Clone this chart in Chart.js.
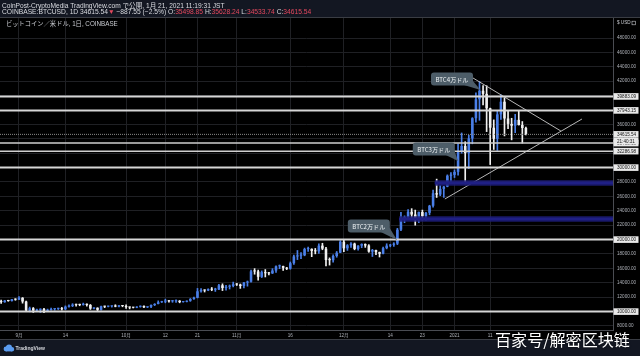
<!DOCTYPE html>
<html><head><meta charset="utf-8">
<script src="https://cdn.jsdelivr.net/npm/chart.js@4.4.1/dist/chart.umd.min.js"></script>
<style>html,body{margin:0;padding:0;background:#000;}canvas{display:block;}</style>
</head><body>
<canvas id="c" width="640" height="356"></canvas>
<script>
// ---- data (daily BTCUSD, Coinbase) ----
const dates = [
'2020-08-27','2020-08-28','2020-08-29','2020-08-30','2020-08-31',
'2020-09-01','2020-09-02','2020-09-03','2020-09-04','2020-09-05','2020-09-06','2020-09-07','2020-09-08','2020-09-09','2020-09-10',
'2020-09-11','2020-09-12','2020-09-13','2020-09-14','2020-09-15','2020-09-16','2020-09-17','2020-09-18','2020-09-19','2020-09-20',
'2020-09-21','2020-09-22','2020-09-23','2020-09-24','2020-09-25','2020-09-26','2020-09-27','2020-09-28','2020-09-29','2020-09-30',
'2020-10-01','2020-10-02','2020-10-03','2020-10-04','2020-10-05','2020-10-06','2020-10-07','2020-10-08','2020-10-09','2020-10-10',
'2020-10-11','2020-10-12','2020-10-13','2020-10-14','2020-10-15','2020-10-16','2020-10-17','2020-10-18','2020-10-19','2020-10-20',
'2020-10-21','2020-10-22','2020-10-23','2020-10-24','2020-10-25','2020-10-26','2020-10-27','2020-10-28','2020-10-29','2020-10-30','2020-10-31',
'2020-11-01','2020-11-02','2020-11-03','2020-11-04','2020-11-05','2020-11-06','2020-11-07','2020-11-08','2020-11-09','2020-11-10',
'2020-11-11','2020-11-12','2020-11-13','2020-11-14','2020-11-15','2020-11-16','2020-11-17','2020-11-18','2020-11-19','2020-11-20',
'2020-11-21','2020-11-22','2020-11-23','2020-11-24','2020-11-25','2020-11-26','2020-11-27','2020-11-28','2020-11-29','2020-11-30',
'2020-12-01','2020-12-02','2020-12-03','2020-12-04','2020-12-05','2020-12-06','2020-12-07','2020-12-08','2020-12-09','2020-12-10',
'2020-12-11','2020-12-12','2020-12-13','2020-12-14','2020-12-15','2020-12-16','2020-12-17','2020-12-18','2020-12-19','2020-12-20',
'2020-12-21','2020-12-22','2020-12-23','2020-12-24','2020-12-25','2020-12-26','2020-12-27','2020-12-28','2020-12-29','2020-12-30','2020-12-31',
'2021-01-01','2021-01-02','2021-01-03','2021-01-04','2021-01-05','2021-01-06','2021-01-07','2021-01-08','2021-01-09','2021-01-10',
'2021-01-11','2021-01-12','2021-01-13','2021-01-14','2021-01-15','2021-01-16','2021-01-17','2021-01-18','2021-01-19','2021-01-20','2021-01-21'
];
const open = [
11460,11320,11530,11470,11710,
11660,11920,11400,10170,10470,10160,10250,10370,10120,10230,10340,10390,10440,10330,10680,10790,10960,10940,10930,11080,10920,10420,10530,10240,10740,10690,10730,10780,10700,10840,
10780,10620,10570,10550,10670,10790,10600,10670,10920,11060,11300,11380,11540,11430,11430,11510,11320,11370,11500,11750,11920,12820,12990,12930,13120,13040,13070,13650,13280,13460,13560,
13800,13760,13550,14030,14150,15590,15580,14830,15480,15330,15310,15700,16290,16330,16070,15960,16720,17660,17780,17820,18680,18710,18420,18370,19160,18740,17160,17140,17720,18180,
19700,18790,19210,19440,18700,19160,19380,19180,18330,18550,18250,18040,18810,19160,19280,19440,21380,22820,23140,23860,23480,22730,23830,23250,23720,24700,26440,26260,27040,27360,28880,
28990,29410,32200,33000,32020,34050,36860,39490,40670,40240,38240,35540,34010,37390,39150,36820,36070,35820,36630,35920,35498.85
];
const high = [
11590,11550,11580,11720,11790,
12080,11950,11470,10630,10570,10350,10400,10440,10350,10500,10400,10480,10580,10790,10940,11100,11050,11040,11180,11080,10990,10570,10540,10770,10760,10780,10800,10950,10860,10850,
10950,10660,10600,10690,10800,10800,10690,10950,11110,11490,11440,11730,11560,11560,11630,11540,11400,11500,11820,12030,13220,13190,13030,13170,13350,13250,13790,13860,13640,13700,14100,
13900,13830,14070,14250,15770,15970,15770,15650,15840,15460,15960,16340,16480,16330,16140,16890,17860,18490,18190,18820,18960,18730,18770,19420,19490,18920,17460,17880,18350,19860,
19920,19310,19580,19520,19180,19420,19410,19300,18650,18560,18270,18950,19420,19350,19570,21560,23800,23290,24170,24300,24100,23840,24100,23800,24770,26870,28400,27500,27390,28990,29300,
29680,33300,34810,33600,34500,36940,40380,41950,41380,41370,38260,36630,37850,40100,39700,37950,36850,37400,37860,36400,35628.24
];
const low = [
11130,11280,11430,11460,11570,
11660,11170,10000,9970,9880,10030,9880,9850,10000,10200,10200,10290,10210,10270,10630,10680,10760,10810,10890,10760,10300,10360,10140,10200,10550,10650,10620,10660,10640,10670,
10440,10380,10500,10530,10610,10530,10550,10530,10830,11060,11260,11220,11300,11290,11270,11220,11300,11340,11420,11680,11900,12700,12720,12900,12900,12800,13060,12920,12990,13140,13430,
13620,13220,13290,13530,14090,15190,14350,14720,14810,15090,15280,15450,15960,15720,15830,15880,16560,17220,17350,17750,18370,17630,18020,18090,18590,16330,16460,16880,17550,18180,
18330,18500,18930,18580,18520,18870,18920,18240,17650,17910,17580,18020,18710,19000,19060,19300,21230,22350,22770,23070,22000,22360,22720,22700,23440,24520,25850,26100,25860,27330,27850,
28620,28950,32000,27730,29870,33300,36300,36570,38720,35000,30420,32520,32380,36700,34400,35400,33850,34850,35900,33400,34533.74
];
const close = [
11320,11530,11470,11710,11660,
11920,11400,10170,10470,10160,10250,10370,10120,10230,10340,10390,10440,10330,10680,10790,10960,10940,10930,11080,10920,10420,10530,10240,10740,10690,10730,10780,10700,10840,10780,
10620,10570,10550,10670,10790,10600,10670,10920,11060,11300,11380,11540,11430,11430,11510,11320,11370,11500,11750,11920,12820,12990,12930,13120,13040,13070,13650,13280,13460,13560,13800,
13760,13550,14030,14150,15590,15580,14830,15480,15330,15310,15700,16290,16330,16070,15960,16720,17660,17780,17820,18680,18710,18420,18370,19160,18740,17160,17140,17720,18180,19700,
18790,19210,19440,18700,19160,19380,19180,18330,18550,18250,18040,18810,19160,19280,19440,21380,22820,23140,23860,23480,22730,23830,23250,23720,24700,26440,26260,27040,27360,28880,28990,
29410,32200,33000,32020,34050,36860,39490,40670,40240,38240,35540,34010,37390,39150,36820,36070,35820,36630,35920,35500,34615.54
];
// x-axis tick dates and labels
const xTickDates = ['2020-09-01','2020-09-14','2020-10-01','2020-10-12','2020-10-21','2020-11-01','2020-11-16','2020-12-01','2020-12-14','2020-12-23','2021-01-01','2021-01-11'];
const xTickLabels = ['9月','14','10月','12','21','11月','16','12月','14','23','2021','11'];
// y-axis ticks
const yTickValues = [8000,10000,12000,14000,16000,18000,20000,22000,24000,26000,28000,30000,32000,34000,36000,38000,40000,42000,44000,46000,48000];
// drawn horizontal levels
const levelValues = [39883.09, 37943.15, 30000, 20000, 10000];
const nearLevelValues = [33405.15, 32286.98];
const currentPrice = 34615.54;
const countdownText = '21:40:31';
// blue zones
const zoneValues = [27860, 22860];
const zoneStartDates = ['2020-12-27', '2020-12-17'];
// triangle trend lines (day offsets from 2020-09-01, price)
const upperTrendDays = [125.8, 151.8];
const upperTrendPrices = [42860, 35080];
const lowerTrendDays = [119.3, 157.7];
const lowerTrendPrices = [25640, 36750];
// callouts
const calloutTexts = ['BTC4万ドル', 'BTC3万ドル', 'BTC2万ドル'];
const calloutBoxDays = [121.3, 116.2, 98.0];
const calloutBoxPrices = [42300, 32580, 21890];
const calloutTipDays = [129.3, 123.0, 105.9];
const calloutTipPrices = [40780, 30900, 19950];

// ---- helpers ----
const BASE = Date.UTC(2020, 8, 1);
const toDay = s => { const [y, m, d] = s.split('-').map(Number); return Math.round((Date.UTC(y, m - 1, d) - BASE) / 86400000); };
const dayIndex = dates.map(toDay);
const xTickDays = xTickDates.map(toDay);
const xMin = -5.32, xMax = 166.4;
const yMin = 7444, yMax = 50778;
const UP = '#4a7fe8', DOWN = '#f0f0f0';
const candleColors = open.map((o, i) => close[i] >= o ? UP : DOWN);

const wickData = dayIndex.map((x, i) => ({x, y: [low[i], high[i]]}));
const bodyData = dayIndex.map((x, i) => ({x, y: [Math.min(open[i], close[i]), Math.max(open[i], close[i])]}));

const lineSets = [];
function seg(xs, ys, color, width, dash) {
  lineSets.push({type: 'line', data: xs.map((x, i) => ({x, y: ys[i]})), borderColor: color, borderWidth: width,
    borderDash: dash || [], pointRadius: 0, fill: false, order: 0, tension: 0});
}
zoneValues.forEach((v, i) => {
  const s = toDay(zoneStartDates[i]) - 0.5;
  seg([s, xMax], [v, v], 'rgba(28,28,120,0.85)', 5.5);
  seg([s, xMax], [v, v], 'rgba(48,48,210,1)', 2.6);
  seg([s, xMax], [v, v], 'rgba(105,105,250,0.8)', 0.8);
});
levelValues.forEach(v => seg([xMin, xMax], [v, v], '#d6d6d6', 2));
nearLevelValues.forEach(v => seg([xMin, xMax], [v, v], '#cfcfcf', 1.5));
seg([xMin, xMax], [currentPrice, currentPrice], '#8a8a8a', 1, [1, 1]);
seg(upperTrendDays, upperTrendPrices, '#b8b8b8', 1);
seg(lowerTrendDays, lowerTrendPrices, '#b8b8b8', 1);

function fitFont(ctx, text, w, family, weight) {
  ctx.font = (weight || '') + ' 20px ' + family;
  const m = ctx.measureText(text).width;
  return 20 * w / m;
}

const deco = {
  id: 'deco',
  beforeDraw(chart) {
    const c = chart.ctx;
    c.save();
    c.fillStyle = '#000'; c.fillRect(0, 0, 640, 356);
    c.fillStyle = '#131722'; c.fillRect(0, 0, 640, 17); c.fillRect(0, 340, 640, 16);
    c.strokeStyle = '#3a3d44'; c.lineWidth = 1;
    c.beginPath(); c.moveTo(0, 17.5); c.lineTo(640, 17.5); c.stroke();
    c.beginPath(); c.moveTo(0, 339.5); c.lineTo(640, 339.5); c.stroke();
    c.restore();
  },
  afterDatasetsDraw(chart) {
    const c = chart.ctx, xs = chart.scales.x, ys = chart.scales.y;
    c.save();
    calloutTexts.forEach((t, i) => {
      const cx = xs.getPixelForValue(calloutBoxDays[i]), cy = ys.getPixelForValue(calloutBoxPrices[i]);
      const tx = xs.getPixelForValue(calloutTipDays[i]), ty = ys.getPixelForValue(calloutTipPrices[i]);
      const w = 42, h = 13, r = 3, x0 = cx - w / 2, y0 = cy - h / 2;
      c.fillStyle = '#4d5d68';
      c.beginPath();
      c.moveTo(x0 + r, y0); c.lineTo(x0 + w - r, y0); c.quadraticCurveTo(x0 + w, y0, x0 + w, y0 + r);
      c.lineTo(x0 + w, y0 + h - r); c.quadraticCurveTo(x0 + w, y0 + h, x0 + w - r, y0 + h);
      c.lineTo(x0 + r, y0 + h); c.quadraticCurveTo(x0, y0 + h, x0, y0 + h - r);
      c.lineTo(x0, y0 + r); c.quadraticCurveTo(x0, y0, x0 + r, y0); c.closePath(); c.fill();
      c.beginPath(); c.moveTo(x0 + w - 9, y0 + h - 0.5); c.lineTo(tx, ty); c.lineTo(x0 + w - 0.5, y0 + h - 5); c.closePath(); c.fill();
      const fs = fitFont(c, t, 33, "'Noto Sans CJK JP'");
      c.font = fs + "px 'Noto Sans CJK JP'";
      c.fillStyle = '#eef2f4'; c.textAlign = 'center'; c.textBaseline = 'middle';
      c.fillText(t, cx, cy + 0.3);
    });
    c.restore();
  },
  afterDraw(chart) {
    const c = chart.ctx, ys = chart.scales.y;
    c.save();
    c.textBaseline = 'middle'; c.textAlign = 'left';
    const fam = "'Liberation Sans', 'Noto Sans CJK JP'";
    // header line 1
    const h1 = 'CoinPost-CryptoMedia TradingView.com で公開, 1月 21, 2021 11:19:31 JST';
    let fs = fitFont(c, h1, 223, fam);
    c.font = fs + 'px ' + fam; c.fillStyle = '#d9dbe0'; c.fillText(h1, 2, 6);
    // header line 2
    const red = '#e5485d', wh = '#d9dbe0';
    const parts = [['COINBASE:BTCUSD, 1D 34615.54', wh], ['▼', red], [' −887.55 (−2.5%) O:', wh], ['35498.85', red], [' H:', wh], ['35628.24', red],
      [' L:', wh], ['34533.74', red], [' C:', wh], ['34615.54', red]];
    const full = parts.map(p => p[0]).join('');
    fs = fitFont(c, full, 310, fam);
    c.font = fs + 'px ' + fam;
    let x = 2;
    parts.forEach(p => { c.fillStyle = p[1]; c.fillText(p[0], x, 12.6); x += c.measureText(p[0]).width; });
    // pane title
    const t3 = 'ビットコイン／米ドル, 1日, COINBASE';
    fs = fitFont(c, t3, 112, fam);
    c.font = fs + 'px ' + fam; c.fillStyle = '#c8cad0'; c.fillText(t3, 6, 24.3);
    // currency label
    c.font = '4.6px ' + fam; c.fillStyle = '#c8cad0'; c.fillText('$ USD', 617, 23);
    c.strokeStyle = '#c8cad0'; c.lineWidth = 0.6; c.strokeRect(632, 21.2, 3.6, 3.6);
    // boxed price labels
    const box = (y, text) => {
      c.fillStyle = '#e9e9e9'; c.fillRect(613.5, y - 3.3, 25, 6.6);
      c.fillStyle = '#141414'; c.font = '4.6px ' + fam; c.fillText(text, 617, y + 0.2);
    };
    levelValues.forEach(v => box(ys.getPixelForValue(v), v.toFixed(2)));
    nearLevelValues.forEach(v => box(ys.getPixelForValue(v), v.toFixed(2)));
    const cp = ys.getPixelForValue(currentPrice);
    box(cp, currentPrice.toFixed(2));
    box(cp + 6.7, countdownText);
    // TradingView logo
    c.fillStyle = '#5b9cf0';
    c.beginPath(); c.arc(6, 349, 2.4, 0, Math.PI * 2); c.arc(9, 347.6, 3, 0, Math.PI * 2); c.arc(12, 349.2, 2.2, 0, Math.PI * 2); c.fill();
    c.fillRect(6, 349, 6, 2.4);
    c.font = 'bold 5px ' + fam; c.fillStyle = '#d6d8de'; c.fillText('TradingView', 15.5, 348.8);
    // watermark
    const wm = '百家号/解密区块链';
    fs = fitFont(c, wm, 135, "'Noto Sans CJK SC'");
    c.font = fs + "px 'Noto Sans CJK SC'";
    c.shadowColor = 'rgba(0,0,0,0.6)'; c.shadowBlur = 2;
    c.fillStyle = '#ffffff'; c.textAlign = 'left'; c.fillText(wm, 495, 339.5);
    c.restore();
  }
};

new Chart(document.getElementById('c'), {
  type: 'bar',
  data: {
    datasets: [
      {type: 'bar', data: wickData, backgroundColor: candleColors, barThickness: 1, grouped: false, order: 2, borderWidth: 0},
      {type: 'bar', data: bodyData, backgroundColor: candleColors, barPercentage: 0.72, categoryPercentage: 1, grouped: false, order: 1, minBarLength: 1, borderWidth: 0},
      ...lineSets
    ]
  },
  options: {
    responsive: false, animation: false, devicePixelRatio: 1,
    layout: {padding: {top: 18, bottom: 16, left: 0, right: 0}},
    plugins: {legend: {display: false}, tooltip: {enabled: false}},
    scales: {
      x: {type: 'linear', min: xMin, max: xMax, offset: false,
        afterBuildTicks: s => { s.ticks = xTickDays.map(v => ({value: v})); },
        afterFit: s => { s.height = 10; },
        ticks: {callback: (v, i) => xTickLabels[i], color: '#aeb1b8', font: {size: 4.6, family: "'Liberation Sans', 'Noto Sans CJK JP'"},
          padding: 2.5, maxRotation: 0, autoSkip: false},
        grid: {color: '#1f2024', lineWidth: 1, drawTicks: false, offset: false},
        border: {color: '#4a4c52', width: 1}
      },
      y: {type: 'linear', position: 'right', min: yMin, max: yMax,
        afterBuildTicks: s => { s.ticks = yTickValues.map(v => ({value: v})); },
        afterFit: s => { s.width = 27; },
        ticks: {callback: v => Number(v).toFixed(2), color: '#aeb1b8', font: {size: 4.6, family: "'Liberation Sans'"}, padding: 4},
        grid: {color: '#1f2024', lineWidth: 1, drawTicks: false},
        border: {color: '#4a4c52', width: 1}
      }
    }
  },
  plugins: [deco]
});
</script>
</body></html>
